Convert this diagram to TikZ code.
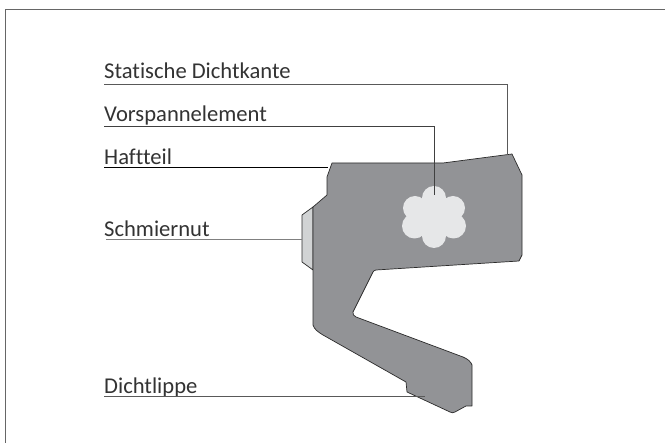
\documentclass[tikz,border=0pt]{standalone}
\usepackage{fontspec}
\setmainfont[Ligatures=NoCommon]{Carlito}
\definecolor{body}{HTML}{929396}
\definecolor{flower}{HTML}{E6E7E8}
\definecolor{groove}{HTML}{D1D3D4}
\definecolor{edge}{HTML}{2B2B2B}
\tikzset{
  lbl/.style={anchor=base west,inner sep=0pt,font=\fontsize{22.6}{26}\selectfont,text=black!80},
  lead/.style={line width=1pt,draw=#1},
  lead/.default=black
}
\begin{document}
\begin{tikzpicture}[x=1pt,y=-1pt]
\useasboundingbox (0,0) rectangle (665,443);
\fill[white] (0,0) rectangle (665,443);
\draw[line width=1pt,draw=black!60] (5.5,443) -- (5.5,9.5) -- (665,9.5);
% seal body
\draw[fill=groove,draw=edge,line width=0.7pt,line join=round]
  (313,207) -- (302,215) -- (302,262) -- (313,270) -- cycle;
\draw[fill=body,draw=edge,line width=0.7pt,line join=round]
  (332,163) -- (443,163) -- (512,154) -- (522,175) -- (522,255) -- (519,261)
  -- (376,270) .. controls (374,270.5) and (373.5,271) .. (373,272)
  -- (353,312) .. controls (352.5,314) and (353.5,316) .. (356,317)
  -- (463,357) .. controls (468,359) and (471,362) .. (472,365)
  -- (472,406) -- (466,406) -- (455,412) .. controls (453,413) and (452,413) .. (450,412)
  -- (407,392) -- (406,382) -- (323,335) .. controls (318,332) and (314,329) .. (313,325)
  -- (313,207) -- (327,195) -- (327,177) -- cycle;
% preload element
\fill[flower] (434,217) circle (14)
  (434,198) circle (12) (434,236) circle (12)
  (415,208) circle (12) (453,208) circle (12)
  (414.5,226) circle (12.5) (453.5,226) circle (12.5);
% labels
\node[lbl] (a) at (104,79) {Statische Dichtkante};
\node[lbl] (b) at (104,122) {Vorspannelement};
\node[lbl] (c) at (104,164.5) {Haftteil};
\node[lbl] (d) at (104,237) {Schmiernut};
\node[lbl] (e) at (104,394) {Dichtlippe};
% connectors
\coordinate (a0) at (104,84.5); \coordinate (a1) at (507.5,84.5); \coordinate (a2) at (507.5,155);
\coordinate (b0) at (104,126.5); \coordinate (b1) at (434,126.5); \coordinate (b2) at (434,195);
\coordinate (c0) at (104,168); \coordinate (c1) at (328,168);
\coordinate (d0) at (106,240); \coordinate (d1) at (302,240);
\coordinate (e0) at (104,397); \coordinate (e1) at (425,397);
\draw[lead=black!65] (a0) -- (a1) -- (a2);
\draw[lead=black!75] (b0) -- (b1) -- (b2);
\draw[lead=black] (c0) -- (c1);
\draw[lead=black!50] (d0) -- (d1);
\draw[lead=black!65] (e0) -- (e1);
\end{tikzpicture}
\end{document}
